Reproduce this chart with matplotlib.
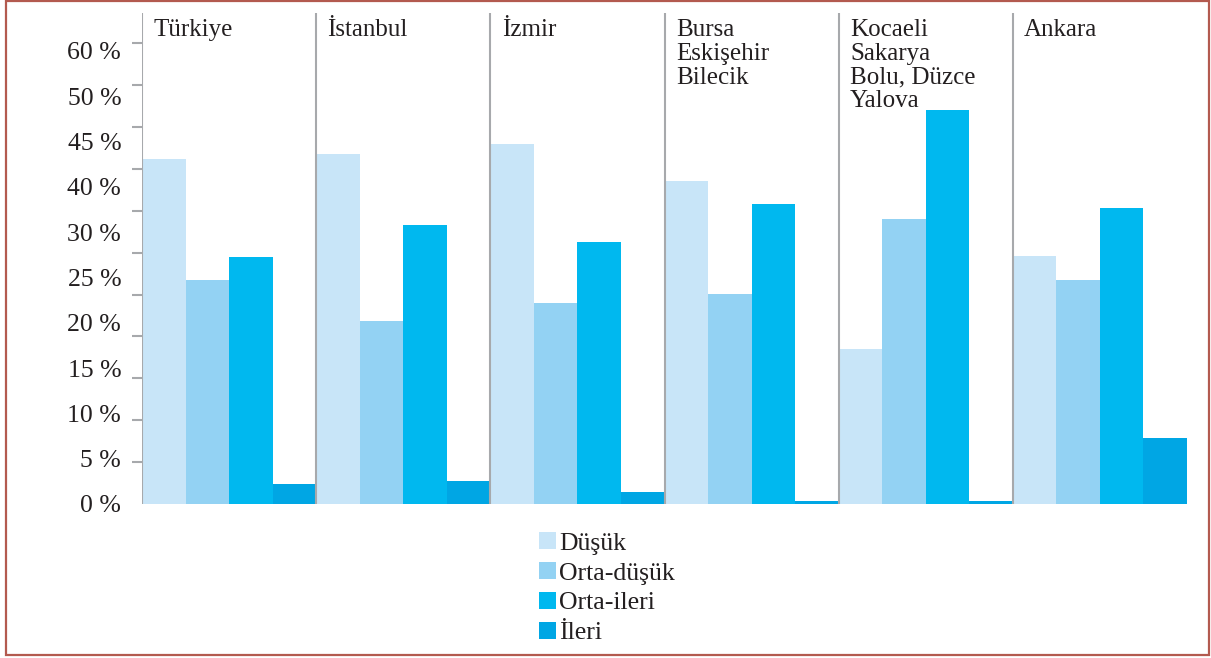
import numpy as np
import matplotlib.pyplot as plt
from matplotlib.patches import Rectangle

plt.rcParams["font.family"] = ["Liberation Serif", "DejaVu Serif"]

regions = ["Türkiye", "İstanbul", "İzmir", "Bursa\nEskişehir\nBilecik",
           "Kocaeli\nSakarya\nBolu, Düzce\nYalova", "Ankara"]
series = ["Düşük", "Orta-düşük", "Orta-ileri", "İleri"]
dusuk = [41.2, 41.8, 43.0, 38.5, 18.5, 29.6]
orta_dusuk = [26.7, 21.8, 24.0, 25.1, 34.0, 26.7]
orta_ileri = [29.5, 33.3, 31.3, 35.8, 47.0, 35.3]
ileri = [2.4, 2.7, 1.4, 0.3, 0.3, 7.9]
ytick_labels = ["0 %", "5 %", "10 %", "15 %", "20 %", "25 %", "30 %",
                "40 %", "45 %", "50 %", "60 %"]

colors = ["#c8e5f8", "#93d2f3", "#00b8ef", "#00a6e4"]
text_c = "#231f20"
sep_c = "#a7a9ac"
fs = 18.5

fig = plt.figure(figsize=(12.11, 6.58), dpi=100)
ax = fig.add_axes([142 / 1211, (658 - 504) / 658, (1187 - 142) / 1211, (504 - 13) / 658])

ytop = 58.6
w = 0.25
x = np.arange(len(regions))
for j, (vals, c, name) in enumerate(zip([dusuk, orta_dusuk, orta_ileri, ileri], colors, series)):
    ax.bar(x + w / 2 + j * w, vals, width=w, color=c, label=name, zorder=2)

# group separators and baseline
ax.vlines(x, 0, ytop, color=sep_c, linewidth=1.5, zorder=3)
ax.hlines(0, 0, len(regions), color="#d4d5d7", linewidth=1.5, zorder=1)

for i, r in enumerate(regions):
    ax.text(i + 0.065, ytop - 0.75, r, ha="left", va="top", fontsize=18,
            color=text_c, linespacing=1.1, zorder=4)

ax.set_xlim(0, len(regions))
ax.set_ylim(0, ytop)
for s in ax.spines.values():
    s.set_visible(False)
ax.set_xticks([])

# tick marks every 5 %, labels on their own spacing as in the original
ax.set_yticks(np.arange(0, 56, 5), minor=True)
ax.set_yticks(np.arange(len(ytick_labels)) * 5.41)
ax.set_yticklabels(ytick_labels, fontsize=fs, color=text_c)
ax.tick_params(axis="y", which="major", length=0, pad=15)
ax.tick_params(axis="y", which="minor", length=7, width=1.5, color=sep_c)

leg = fig.legend(loc="upper left", bbox_to_anchor=(539 / 1211, 1 - 532 / 658),
                 frameon=False, fontsize=fs, handlelength=0.66, handleheight=0.66,
                 handletextpad=0.12, labelspacing=0.28, borderpad=0, borderaxespad=0)
for t in leg.get_texts():
    t.set_color(text_c)

fig.patches.append(Rectangle((6 / 1211, 3 / 658), 1203 / 1211, 654 / 658,
                             transform=fig.transFigure, fill=False,
                             edgecolor="#b35a4f", linewidth=1.6))

fig.savefig("out.png", dpi=100)
